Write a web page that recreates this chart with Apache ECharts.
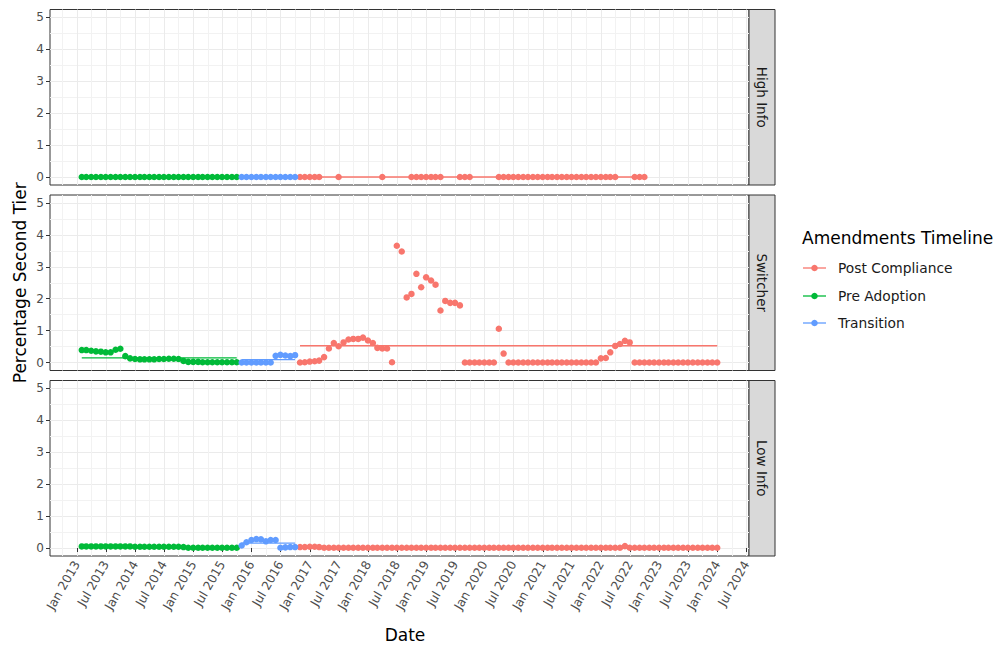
<!DOCTYPE html>
<html>
<head>
<meta charset="utf-8">
<script src="https://cdn.jsdelivr.net/npm/echarts@6/dist/echarts.min.js"></script>
<style>
html,body{margin:0;padding:0;background:#fff;}
#chart{width:998px;height:645px;}
</style>
</head>
<body>
<div id="chart"></div>
<script>
// ---------------- DATA ----------------
const facetNames = ['High Info', 'Switcher', 'Low Info'];
const groupNames = ['Post Compliance', 'Pre Adoption', 'Transition'];
const firstMonth = 'Jan 2013';           // first monthly observation (month-end dates)
const preMonths = 33;                    // Jan 2013 - Sep 2015
const transMonths = 12;                  // Oct 2015 - Sep 2016
const postMonths = 87;                   // Oct 2016 - Dec 2023
const xTickLabels = ['Jan 2013','Jul 2013','Jan 2014','Jul 2014','Jan 2015','Jul 2015','Jan 2016','Jul 2016',
  'Jan 2017','Jul 2017','Jan 2018','Jul 2018','Jan 2019','Jul 2019','Jan 2020','Jul 2020',
  'Jan 2021','Jul 2021','Jan 2022','Jul 2022','Jan 2023','Jul 2023','Jan 2024','Jul 2024'];
const yTickValues = [0, 1, 2, 3, 4, 5];

// High Info
const highPre = [0,0,0,0,0,0,0,0,0,0,0,0,0,0,0,0,0,0,0,0,0,0,0,0,0,0,0,0,0,0,0,0,0];
const highTrans = [0,0,0,0,0,0,0,0,0,0,0,0];
const highPost = [0,0,0,0,0, null,null,null, 0, null,null,null,null,null,null,null,null, 0,
  null,null,null,null,null, 0,0,0,0,0,0,0, null,null,null, 0,0,0, null,null,null,null,null,
  0,0,0,0,0,0,0,0,0,0,0,0,0,0,0,0,0,0,0,0,0,0,0,0,0, null,null,null, 0,0,0,
  null,null,null,null,null,null,null,null,null,null,null,null,null,null,null];

// Switcher
const switchPre = [0.39,0.39,0.37,0.35,0.34,0.32,0.32,0.40,0.43,0.20,0.13,0.11,0.10,0.10,0.10,0.10,0.11,
  0.11,0.12,0.12,0.11,0.05,0.02,0.02,0.02,0.01,0.01,0.01,0.01,0.01,0.01,0.01,0.01];
const switchTrans = [0,0,0,0,0,0,0,0.21,0.24,0.22,0.20,0.23];
const switchPost = [0.00,0.01,0.03,0.04,0.06,0.17,0.44,0.61,0.51,0.63,
  0.72,0.74,0.74,0.78,0.69,0.61,0.46,0.44,0.44,0.01,
  3.66,3.48,2.04,2.15,2.78,2.36,2.67,2.57,2.44,1.63,
  1.93,1.87,1.87,1.79,0,0,0,0,0,0,
  0,1.06,0.28,0,0,0,0,0,0,0,
  0,0,0,0,0,0,0,0,0,0,
  0,0,0.13,0.14,0.32,0.52,0.58,0.68,0.63,0,
  0,0,0,0,0,0,0,0,0,0,
  0,0,0,0,0,0,0];

// Low Info
const lowPre = [0.05,0.05,0.05,0.05,0.05,0.05,0.05,0.05,0.05,0.05,0.05,0.04,0.04,0.04,0.04,0.04,0.04,
  0.04,0.04,0.04,0.04,0.03,0.01,0.01,0.01,0.01,0.01,0.01,0.01,0.01,0.01,0.01,0.01];
const lowTrans = [0.08,0.18,0.25,0.28,0.27,0.21,0.25,0.25,0.01,0.02,0.03,0.03];
const lowPost = [0.03,0.03,0.04,0.04,0.03,
  0.01,0.01,0.01,0.01,0.01,0.01,0.01,0.01,0.01,0.01,0.01,0.01,0.01,0.01,0.01,0.01,0.01,0.01,0.01,0.01,0.01,
  0.01,0.01,0.01,0.01,0.01,0.01,0.01,0.01,0.01,0.01,0.01,0.01,0.01,0.01,0.01,0.01,0.01,0.01,0.01,0.01,0.01,
  0.01,0.01,0.01,0.01,0.01,0.01,0.01,0.01,0.01,0.01,0.01,0.01,0.01,0.01,0.01,0.01,0.01,0.01,0.01,0.01,
  0.06,
  0.01,0.01,0.01,0.01,0.01,0.01,0.01,0.01,0.01,0.01,0.01,0.01,0.01,0.01,0.01,0.01,0.01,0.01,0.01];

// ---------------- STYLE ----------------
const groupColors = {'Post Compliance': '#F8766D', 'Pre Adoption': '#00BA38', 'Transition': '#619CFF'};
const FONT = '"DejaVu Sans", "Noto Sans", sans-serif';

const monthNames = ['Jan','Feb','Mar','Apr','May','Jun','Jul','Aug','Sep','Oct','Nov','Dec'];
function parseMonth(s) { const p = s.split(' '); return {y: +p[1], m: monthNames.indexOf(p[0])}; }
const fm = parseMonth(firstMonth);
function monthEnd(i) { return Date.UTC(fm.y, fm.m + i + 1, 0); }
function monthStart(s) { const p = parseMonth(s); return Date.UTC(p.y, p.m, 1); }

const facetData = [
  {'Pre Adoption': highPre, 'Transition': highTrans, 'Post Compliance': highPost},
  {'Pre Adoption': switchPre, 'Transition': switchTrans, 'Post Compliance': switchPost},
  {'Pre Adoption': lowPre, 'Transition': lowTrans, 'Post Compliance': lowPost}
];
const groupOffset = {'Pre Adoption': 0, 'Transition': preMonths, 'Post Compliance': preMonths + transMonths};

const totalMonths = preMonths + transMonths + postMonths;
const firstT = monthEnd(0), lastT = monthEnd(totalMonths - 1);
const span = lastT - firstT;
const xMin = firstT - 0.05 * span, xMax = lastT + 0.05 * span;

const majorTs = xTickLabels.map(monthStart);
const labelMap = {};
xTickLabels.forEach((l, i) => { labelMap[majorTs[i]] = l; });
const ext = [majorTs[0] - (majorTs[1] - majorTs[0])].concat(majorTs, [majorTs[majorTs.length-1] + (majorTs[1]-majorTs[0])]);
const minorTs = [];
for (let i = 0; i < ext.length - 1; i++) {
  const m = (ext[i] + ext[i+1]) / 2;
  if (m > xMin && m < xMax) minorTs.push(m);
}
const yMinor = [];
for (let i = 0; i < yTickValues.length - 1; i++) yMinor.push((yTickValues[i] + yTickValues[i+1]) / 2);

const panelLeft = 50, panelWidth = 699, panelHeight = 175.5;
const panelTops = [9.5, 195, 380.5];
const yLo = -0.25, yHi = 5.25;

const grids = [], xAxes = [], yAxes = [], series = [], graphics = [];

panelTops.forEach((top, k) => {
  grids.push({left: panelLeft, top: top, width: panelWidth, height: panelHeight,
    show: true, backgroundColor: '#FFFFFF', borderColor: '#333333', borderWidth: 1, containLabel: false});
  const isBottom = k === panelTops.length - 1;
  xAxes.push({
    type: 'value', gridIndex: k, position: 'bottom', min: xMin, max: xMax, scale: true,
    axisLine: {show: false},
    axisTick: {show: isBottom, customValues: majorTs, length: 4, lineStyle: {color: '#333333', width: 1}},
    axisLabel: {show: isBottom, customValues: majorTs, rotate: 60, margin: 6,
      formatter: v => labelMap[v] || '', color: '#4D4D4D', fontSize: 12.3, fontFamily: FONT,
      showMinLabel: true, showMaxLabel: true, hideOverlap: false},
    splitLine: {show: true, lineStyle: {color: '#EBEBEB', width: 1}}
  });
  xAxes.push({
    type: 'value', gridIndex: k, position: 'top', min: xMin, max: xMax, scale: true,
    axisLine: {show: false},
    axisTick: {show: false, customValues: minorTs},
    axisLabel: {show: false, customValues: minorTs},
    splitLine: {show: true, lineStyle: {color: '#F2F2F2', width: 1}}
  });
  yAxes.push({
    type: 'value', gridIndex: k, position: 'left', min: yLo, max: yHi,
    axisLine: {show: false},
    axisTick: {show: true, customValues: yTickValues, length: 4, lineStyle: {color: '#333333', width: 1}},
    axisLabel: {show: true, customValues: yTickValues, margin: 6, formatter: v => String(v),
      color: '#4D4D4D', fontSize: 12, fontFamily: FONT},
    splitLine: {show: true, lineStyle: {color: '#EBEBEB', width: 1}}
  });
  yAxes.push({
    type: 'value', gridIndex: k, position: 'right', min: yLo, max: yHi,
    axisLine: {show: false},
    axisTick: {show: false, customValues: yMinor},
    axisLabel: {show: false, customValues: yMinor},
    splitLine: {show: true, lineStyle: {color: '#F2F2F2', width: 1}}
  });

  groupNames.forEach(g => {
    const vals = facetData[k][g];
    const off = groupOffset[g];
    const pts = [];
    vals.forEach((v, j) => { if (v !== null && v !== undefined) pts.push([monthEnd(off + j), v]); });
    series.push({
      type: 'scatter', name: g, xAxisIndex: 2*k, yAxisIndex: 2*k,
      data: pts, symbol: 'circle', symbolSize: 6.5,
      itemStyle: {color: groupColors[g], opacity: 1}, z: 2, silent: true
    });
    const mean = pts.reduce((a, p) => a + p[1], 0) / pts.length;
    series.push({
      type: 'line', name: g, xAxisIndex: 2*k, yAxisIndex: 2*k,
      data: [[pts[0][0], mean], [pts[pts.length-1][0], mean]],
      showSymbol: false, symbol: 'none',
      lineStyle: {color: groupColors[g], width: 1.3}, z: 3, silent: true
    });
  });

  // strip
  graphics.push({type: 'rect', shape: {x: panelLeft + panelWidth, y: top, width: 26, height: panelHeight},
    style: {fill: '#D9D9D9', stroke: '#333333', lineWidth: 1}, silent: true});
  graphics.push({type: 'text', x: panelLeft + panelWidth + 13, y: top + panelHeight / 2, rotation: -Math.PI / 2,
    style: {text: facetNames[k], x: 0, y: 0, textAlign: 'center', textVerticalAlign: 'middle',
      align: 'center', verticalAlign: 'middle', font: '13.5px ' + FONT, fill: '#1A1A1A'}, silent: true});
});

// axis titles
graphics.push({type: 'text', x: 20, y: (panelTops[0] + panelTops[2] + panelHeight) / 2, rotation: Math.PI / 2,
  style: {text: 'Percentage Second Tier', x: 0, y: 0, textAlign: 'center', textVerticalAlign: 'middle',
    align: 'center', verticalAlign: 'middle', font: '17px ' + FONT, fill: '#000000'}});
graphics.push({type: 'text', x: 405, y: 635,
  style: {text: 'Date', x: 0, y: 0, textAlign: 'center', textVerticalAlign: 'middle',
    align: 'center', verticalAlign: 'middle', font: '17px ' + FONT, fill: '#000000'}});

// legend
graphics.push({type: 'text', x: 802, y: 238,
  style: {text: 'Amendments Timeline', x: 0, y: 0, textAlign: 'left', textVerticalAlign: 'middle',
    align: 'left', verticalAlign: 'middle', font: '17px ' + FONT, fill: '#000000'}});
const legendY = [268, 296, 323];
groupNames.forEach((g, i) => {
  graphics.push({type: 'line', shape: {x1: 803, y1: legendY[i], x2: 826, y2: legendY[i]},
    style: {stroke: groupColors[g], lineWidth: 1.3}});
  graphics.push({type: 'circle', shape: {cx: 814.5, cy: legendY[i], r: 3.25},
    style: {fill: groupColors[g]}});
  graphics.push({type: 'text', x: 838, y: legendY[i],
    style: {text: g, x: 0, y: 0, textAlign: 'left', textVerticalAlign: 'middle',
      align: 'left', verticalAlign: 'middle', font: '13.8px ' + FONT, fill: '#1A1A1A'}});
});

const chart = echarts.init(document.getElementById('chart'), null, {renderer: 'svg', width: 998, height: 645});
chart.setOption({
  animation: false,
  backgroundColor: '#FFFFFF',
  textStyle: {fontFamily: FONT},
  grid: grids,
  xAxis: xAxes,
  yAxis: yAxes,
  series: series,
  graphic: graphics
});
</script>
</body>
</html>
